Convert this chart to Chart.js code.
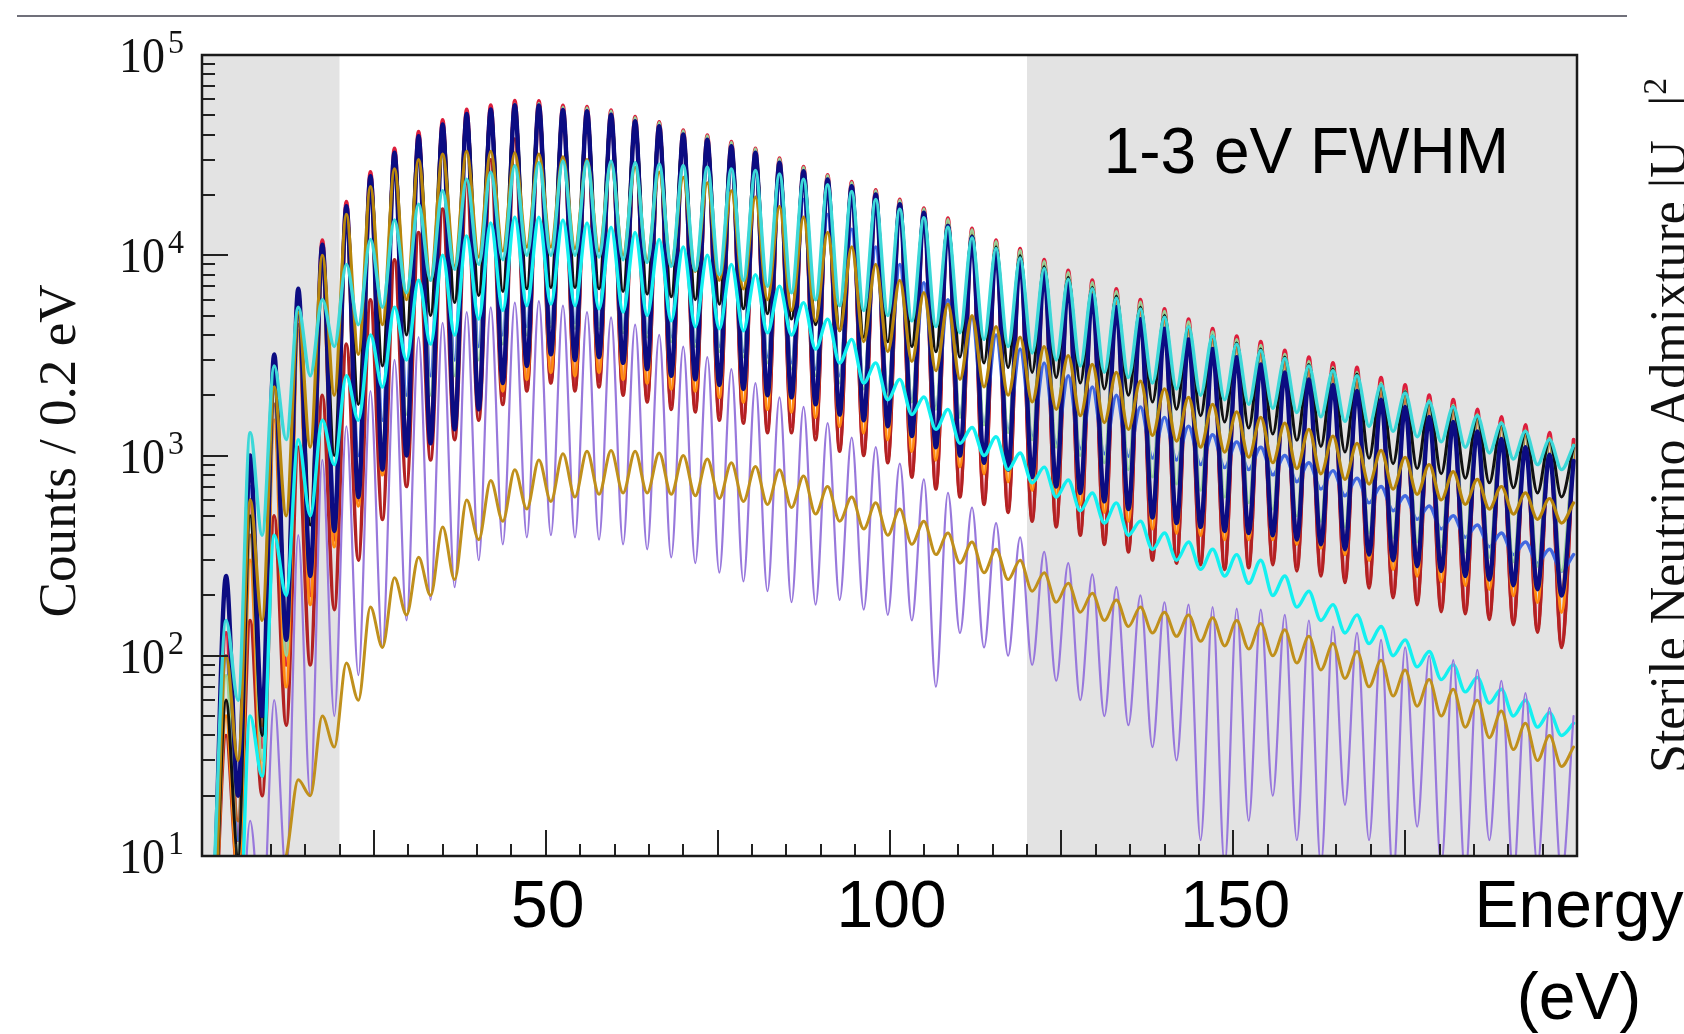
<!DOCTYPE html>
<html><head><meta charset="utf-8">
<script src="https://cdn.jsdelivr.net/npm/chart.js@4.4.1/dist/chart.umd.min.js"></script>
<style>html,body{margin:0;padding:0;background:#fff;overflow:hidden}#wrap{width:1684px;height:1034px;position:relative}</style>
</head><body><div id="wrap"><canvas id="c" width="1684" height="1034"></canvas></div>
<script>
// ---------- energies (eV) of peaks and of the troughs between them ----------
const peakE = [3.5,7,10.5,14,17.5,21,24.5,28,31.5,35,38.5,42,45.5,49,52.5,56,59.5,63,66.5,70,73.5,77,80.5,84,87.5,91,94.5,98,101.5,105,108.5,112,115.5,119,122.5,126,129.5,133,136.5,140,143.5,147,150.5,154,157.5,161,164.5,168,171.5,175,178.5,182,185.5,189,192.5,196,199.5];
const troughE = [1.75,5.25,8.75,12.25,15.75,19.25,22.75,26.25,29.75,33.25,36.75,40.25,43.75,47.25,50.75,54.25,57.75,61.25,64.75,68.25,71.75,75.25,78.75,82.25,85.75,89.25,92.75,96.25,99.75,103.25,106.75,110.25,113.75,117.25,120.75,124.25,127.75,131.25,134.75,138.25,141.75,145.25,148.75,152.25,155.75,159.25,162.75,166.25,169.75,173.25,176.75,180.25,183.75,187.25,190.75,194.25,197.75];

// ---------- counts / 0.2 eV ----------
const crimsonPeaks = [130,600,2600,6500,11900,18500,26100,34200,41400,47400,53500,56200,59100,59000,56000,55200,53100,49200,46400,42200,39800,36900,34200,30500,27700,25200,23300,21200,19000,17200,15300,13600,11900,10800,9500,8400,7500,6800,6000,5400,4800,4300,3950,3700,3350,3100,2900,2750,2450,2250,2000,1900,1700,1560,1420,1300,1200];
const crimsonTroughs = [5,12,35,90,200,380,600,850,1050,1250,1450,1700,2000,2200,2400,2200,2350,2100,1950,1800,1750,1600,1550,1380,1400,1290,1100,1050,970,820,710,650,600,550,490,460,420,380,345,315,305,300,280,290,300,280,265,245,230,205,190,175,170,160,150,138,115];

const navyPeaks = [250,1000,3200,6800,11300,17600,24800,32500,39300,45000,50800,53400,56100,56000,53200,52400,50400,46700,44100,40100,37800,35000,32500,29000,26300,23900,22100,20100,18000,16300,14000,12300,10600,9500,8200,7200,6300,5500,4800,4300,3800,3400,3100,2850,2600,2400,2250,2100,1900,1750,1560,1470,1320,1210,1100,1010,940];
const navyTroughs = [5,20,50,120,250,420,620,850,1000,1150,1350,1700,2300,2800,3200,3000,3100,2900,2700,2500,2400,2250,2150,2000,1950,1800,1600,1500,1400,1250,1100,1000,920,850,780,700,650,590,540,490,460,440,420,410,400,380,360,340,320,300,280,265,250,240,225,215,200];

const blackPeaks = [60,500,2400,6000,10800,16800,23800,31200,37800,43500,49000,51500,54000,54000,51500,50800,48900,45200,42700,38800,36600,34000,31500,28100,25500,23200,21400,19500,17500,15800,14100,12500,11000,9950,8750,7750,6900,6250,5500,5000,4400,3950,3650,3400,3100,2850,2700,2550,2250,2080,1850,1750,1570,1440,1310,1200,1110];
const blackTroughs = [3,10,40,150,450,1000,1800,2800,4000,5000,5800,6300,6600,6800,6900,6900,6800,6600,6400,6200,6000,5700,5400,5100,4800,4500,4200,3900,3700,3500,3300,3100,2900,2750,2600,2450,2300,2150,2000,1850,1700,1580,1470,1370,1280,1190,1110,1040,970,910,860,810,770,730,690,650,620];

const turquoisePeaks = [150,1300,2800,5500,6000,9000,12000,15000,18000,21000,24000,26000,28000,29000,29500,29500,29500,29000,28500,28000,27500,27000,26500,25500,24000,22500,20800,19000,17000,15400,13800,12200,10800,9700,8600,7600,6800,6100,5400,4900,4400,3950,3600,3350,3050,2800,2650,2500,2250,2050,1850,1750,1580,1450,1320,1200,1120];
const turquoiseTroughs = [8,60,400,1200,2500,3500,4500,5500,6500,7500,8500,9000,9500,10000,10000,10000,9800,9500,9200,8800,8400,8000,7500,7000,6500,6000,5600,5300,5000,4700,4400,4100,3800,3500,3250,3000,2800,2600,2450,2300,2150,2000,1900,1800,1720,1640,1560,1480,1400,1320,1240,1170,1100,1030,960,900,850];

const greenPeaks = [80,500,2200,5800,10500,16500,23500,31000,38000,44000,50000,53500,57000,57500,55000,54500,52500,48800,46000,41900,39500,36700,34000,30300,27500,25000,23100,21000,18800,17000,15100,13400,11700,10600,9300,8200,7300,6600,5850,5250,4650,4150,3800,3550,3200,2950,2750,2600,2300,2100,1880,1780,1600,1460,1330,1220,1120];
const greenTroughs = [3,10,30,100,250,500,800,1200,1600,2000,2500,3000,3600,4000,4400,4300,4300,4100,3900,3700,3500,3300,3100,2900,2700,2500,2300,2150,2000,1850,1700,1550,1420,1300,1200,1100,1000,920,850,780,720,670,620,580,540,500,470,440,410,390,370,350,330,310,295,280,265];

const orangePeaks = [50,300,1500,4200,8500,14500,21500,29500,36500,42500,48000,50500,53000,53000,50400,49700,47800,44300,41800,38000,35800,33200,30800,27500,24900,22700,21000,19100,17100,15500,13800,12200,10700,9700,8550,7550,6750,6100,5400,4850,4300,3850,3550,3300,3000,2800,2600,2450,2200,2000,1800,1700,1530,1400,1280,1170,1080];
const orangeTroughs = [3,8,25,70,180,350,560,800,1000,1250,1500,1800,2100,2400,2600,2500,2600,2400,2300,2150,2100,1950,1850,1700,1650,1550,1400,1300,1200,1050,950,880,810,740,670,620,570,520,470,430,410,400,380,380,380,360,345,320,300,270,250,235,225,215,200,185,165];

const siennaPeaks = [60,400,1800,4500,8500,14000,21000,29000,37000,44000,50000,53000,56000,56000,53000,52000,50000,46500,43800,39800,37500,34800,32200,28700,26000,23700,21900,19900,17900,16200,14400,12800,11200,10200,8950,7900,7050,6400,5650,5100,4500,4050,3700,3500,3150,2900,2720,2580,2300,2100,1880,1780,1600,1460,1330,1220,1130];
const siennaTroughs = [3,15,45,120,280,500,750,1050,1300,1550,1800,2100,2500,2900,3200,3100,3100,2900,2750,2600,2500,2350,2250,2100,2000,1850,1700,1550,1450,1300,1150,1050,960,880,800,730,670,610,560,510,480,460,440,430,420,400,380,360,340,320,300,285,270,255,240,228,215];

const firebrickPeaks = [40,150,500,1100,2000,3600,6000,9500,13000,17000,23000,30000,38000,45000,48000,49000,48000,45000,42500,38800,36500,34000,31500,28000,25500,23200,21400,19500,17500,15800,14100,12500,11000,9950,8750,7750,6900,6250,5500,5000,4400,3950,3650,3400,3100,2850,2650,2550,2250,2050,1850,1750,1570,1440,1310,1200,1100];
const firebrickTroughs = [3,8,20,45,90,170,300,480,700,950,1200,1500,1800,2100,2300,2100,2200,2000,1850,1700,1650,1500,1450,1300,1300,1200,1050,1000,920,780,680,620,570,520,470,440,400,360,330,300,290,285,270,275,285,265,250,232,218,195,180,166,162,152,143,131,110];

const royalPeaks = [100,700,2600,6000,10500,16500,23000,30500,37000,42500,48000,50500,53000,53000,50500,49500,47500,44000,41000,37000,34500,31500,28500,22000,19000,16000,13500,11000,9000,7300,6000,4900,4000,3400,2900,2500,2200,2000,1750,1550,1400,1270,1170,1100,1000,920,840,770,700,630,560,500,450,410,370,340,320];
const royalTroughs = [3,12,40,120,300,600,1000,1500,2000,2500,3000,3500,4000,4400,4600,4600,4500,4300,4100,3900,3700,3500,3300,3100,2900,2700,2500,2300,2100,1900,1750,1600,1450,1350,1250,1150,1080,1020,990,970,950,900,870,850,800,740,680,630,580,530,480,430,390,350,320,290,265];

const goldUpperPeaks = [100,600,2200,5200,10000,16000,22000,27000,30000,32000,33000,33000,32500,32000,31000,30000,29000,27500,26000,24500,23000,21000,19500,17500,15500,13000,11000,9000,7500,6500,5700,5000,4400,3900,3500,3150,2850,2600,2350,2150,1950,1800,1650,1550,1450,1350,1250,1150,1060,980,900,830,760,700,650,610,580];
const goldUpperTroughs = [3,30,150,500,1100,2000,3200,4500,6000,7500,8800,9800,10500,11000,11000,10800,10500,10000,9500,9000,8300,7500,6800,6000,5300,4700,4200,3700,3300,2950,2650,2400,2200,2000,1850,1700,1580,1460,1350,1260,1180,1100,1040,980,920,860,810,760,720,680,640,600,570,540,510,480,460];

const cyanLowPeaks = [5,50,400,1200,1500,2500,4000,5500,7500,10000,12500,14500,15500,15500,15000,14500,13800,13000,12000,11000,10000,9000,8000,7000,5800,4800,3800,2900,2400,1960,1700,1380,1240,1030,875,755,650,580,470,410,370,340,320,300,250,210,180,160,140,120,105,90,78,68,60,52,46];
const cyanLowTroughs = [1,3,25,200,500,900,1500,2200,3000,3600,4000,4800,5300,5600,5700,5600,5400,5200,5000,4700,4400,4300,4200,4100,4000,3400,2900,2300,1900,1600,1350,1150,1000,850,730,620,530,460,400,340,300,270,250,230,200,175,150,130,115,100,88,76,66,58,50,44,40];

const purplePeaks = [3,15,60,400,950,1400,2100,3000,3900,4600,5200,5500,5800,5900,5600,5200,4900,4500,4000,3500,3100,2700,2300,1950,1750,1450,1230,1100,910,760,650,550,460,390,330,290,255,220,200,185,180,175,172,170,160,150,140,130,120,110,100,95,85,75,65,55,50];
const purpleTroughs = [1,2,4,8,20,50,80,110,150,190,220,300,360,390,400,390,380,360,340,310,290,260,235,210,185,180,190,170,160,150,70,130,110,100,90,75,60,50,45,35,30,12,9,15,20,12,9,18,12,8,14,9,8,12,8,9,8];

const goldLowPeaks = [2,3,8,24,50,92,175,245,310,440,600,750,850,950,1020,1050,1060,1050,1030,1000,960,920,880,850,790,700,620,580,540,470,410,370,340,300,260,230,205,190,175,165,160,155,150,145,135,125,115,105,95,85,76,68,60,53,46,40,35];
const goldLowTroughs = [1,2,4,10,20,35,60,110,160,200,240,380,470,540,590,620,640,650,650,640,630,610,590,570,550,510,470,430,400,360,320,290,260,240,210,185,165,150,140,130,125,118,112,108,100,92,85,77,70,63,56,50,44,39,34,30,28];

// ---------- axes / annotations ----------
const shadedRanges = [[0, 20], [120, 200]];
const xMajorTicks = [25, 50, 75, 100, 125, 150, 175];
const xMinorTicks = [5,10,15,20,30,35,40,45,55,60,65,70,80,85,90,95,105,110,115,120,130,135,140,145,155,160,165,170,180,185,190,195];
const xTickLabelValues = [50, 100, 150, 200];
const xTickLabels = [['50'], ['100'], ['150'], ['Energy', '(eV)']];
const yDecadeExponents = [1, 2, 3, 4, 5];
const yMinorMultipliers = [2, 3, 4, 5, 6, 7, 8, 9];
const yTitle = 'Counts / 0.2 eV';
const panelNote = '1-3 eV FWHM';
const rightTitleMain = 'Sterile Neutrino Admixture |U';
const rightTitleSub = 'e4';
const rightTitleEnd = '|';
const rightTitleSup = '2';

function buildPoints(troughs, peaks) {
  const pts = [];
  for (let i = 0; i < peaks.length; i++) {
    pts.push({ x: troughE[i], y: troughs[i] });
    pts.push({ x: peakE[i], y: peaks[i] });
  }
  return pts;
}

// listed top-most first
const seriesDefs = [
  { label: 'Spectrum L1', color: '#c0901c', width: 3.0, pk: goldLowPeaks, tr: goldLowTroughs },
  { label: 'Spectrum L2', color: '#9878dc', width: 2.2, pk: purplePeaks, tr: purpleTroughs },
  { label: 'Spectrum L3', color: '#14f0f0', width: 3.4, pk: cyanLowPeaks, tr: cyanLowTroughs },
  { label: 'Spectrum U1', color: '#3cd8d8', width: 3.4, pk: turquoisePeaks, tr: turquoiseTroughs },
  { label: 'Spectrum U2', color: '#b8860b', width: 3.2, pk: goldUpperPeaks, tr: goldUpperTroughs },
  { label: 'Spectrum U3', color: '#0c0c82', width: 4.4, pk: navyPeaks, tr: navyTroughs },
  { label: 'Spectrum U4', color: '#111111', width: 3.0, pk: blackPeaks, tr: blackTroughs },
  { label: 'Spectrum U5', color: '#98d198', width: 3.0, pk: greenPeaks, tr: greenTroughs },
  { label: 'Spectrum U6', color: '#b5622a', width: 3.6, pk: siennaPeaks, tr: siennaTroughs },
  { label: 'Spectrum U7', color: '#4169e1', width: 3.4, pk: royalPeaks, tr: royalTroughs },
  { label: 'Spectrum U8', color: '#ff8a10', width: 3.4, pk: orangePeaks, tr: orangeTroughs },
  { label: 'Spectrum U9', color: '#b22222', width: 3.6, pk: firebrickPeaks, tr: firebrickTroughs },
  { label: 'Spectrum U10', color: '#dc1e3c', width: 3.8, pk: crimsonPeaks, tr: crimsonTroughs }
];

const datasets = seriesDefs.map(s => ({
  label: s.label,
  data: buildPoints(s.tr, s.pk),
  borderColor: s.color,
  borderWidth: s.width,
  pointRadius: 0,
  fill: false,
  cubicInterpolationMode: 'monotone',
  borderJoinStyle: 'round',
  borderCapStyle: 'round',
  clip: 0
}));

function stretchedText(ctx, text, x, y, font, align, sy) {
  ctx.save();
  ctx.translate(x, y);
  ctx.scale(1, sy);
  ctx.font = font;
  ctx.textAlign = align;
  ctx.textBaseline = 'alphabetic';
  ctx.fillText(text, 0, 0);
  ctx.restore();
}

const decor = {
  id: 'decor',
  beforeDraw(chart) {
    const ctx = chart.ctx;
    ctx.save();
    ctx.fillStyle = '#ffffff';
    ctx.fillRect(0, 0, chart.width, chart.height);
    ctx.restore();
  },
  beforeDatasetsDraw(chart) {
    const { ctx, chartArea: a, scales: { x } } = chart;
    ctx.save();
    ctx.fillStyle = '#e3e3e3';
    for (const [lo, hi] of shadedRanges) {
      const x0 = x.getPixelForValue(lo), x1 = x.getPixelForValue(hi);
      ctx.fillRect(x0, a.top, x1 - x0, a.bottom - a.top);
    }
    ctx.restore();
  },
  afterDatasetsDraw(chart) {
    const { ctx, chartArea: a, scales: { x, y } } = chart;
    ctx.save();
    // slide rule line at the top
    ctx.strokeStyle = '#70707a';
    ctx.lineWidth = 2;
    ctx.beginPath(); ctx.moveTo(17, 16); ctx.lineTo(1627, 16); ctx.stroke();

    // ticks (drawn inward)
    ctx.strokeStyle = '#222';
    ctx.lineWidth = 2;
    ctx.beginPath();
    for (const v of xMajorTicks) { const px = Math.round(x.getPixelForValue(v)); ctx.moveTo(px, a.bottom); ctx.lineTo(px, a.bottom - 26); }
    for (const v of xMinorTicks) { const px = Math.round(x.getPixelForValue(v)); ctx.moveTo(px, a.bottom); ctx.lineTo(px, a.bottom - 12); }
    for (const e of yDecadeExponents) {
      const py = Math.round(y.getPixelForValue(Math.pow(10, e)));
      ctx.moveTo(a.left, py); ctx.lineTo(a.left + 26, py);
      if (e < 5) {
        for (const m of yMinorMultipliers) {
          const pm = Math.round(y.getPixelForValue(m * Math.pow(10, e)));
          ctx.moveTo(a.left, pm); ctx.lineTo(a.left + 13, pm);
        }
      }
    }
    ctx.stroke();

    // frame
    ctx.lineWidth = 2.5;
    ctx.strokeStyle = '#1a1a1a';
    ctx.strokeRect(a.left, a.top, a.right - a.left, a.bottom - a.top);

    // y tick labels 10^n
    ctx.fillStyle = '#111';
    for (const e of yDecadeExponents) {
      const py = y.getPixelForValue(Math.pow(10, e));
      stretchedText(ctx, '10', 165, py + 17, '46px "Liberation Serif"', 'right', 1.08);
      stretchedText(ctx, String(e), 168, py - 2, '32px "Liberation Serif"', 'left', 1.05);
    }

    // x tick labels
    ctx.fillStyle = '#000';
    ctx.font = '66px "Liberation Sans"';
    ctx.textAlign = 'center';
    ctx.textBaseline = 'alphabetic';
    xTickLabelValues.forEach((v, i) => {
      const px = x.getPixelForValue(v) + 2;
      xTickLabels[i].forEach((line, j) => ctx.fillText(line, px, a.bottom + 71 + j * 92));
    });

    // y axis title (rotated)
    ctx.save();
    ctx.translate(75, 451);
    ctx.rotate(-Math.PI / 2);
    ctx.scale(1.02, 1);
    ctx.font = '52px "Liberation Serif"';
    ctx.textAlign = 'center';
    ctx.fillStyle = '#111';
    ctx.fillText(yTitle, 0, 0);
    ctx.restore();

    // right-hand (cut off) title
    ctx.save();
    ctx.translate(1686, 773);
    ctx.rotate(-Math.PI / 2);
    ctx.fillStyle = '#111';
    ctx.textAlign = 'left';
    ctx.font = '52px "Liberation Serif"';
    ctx.fillText(rightTitleMain, 0, 0);
    let w = ctx.measureText(rightTitleMain).width;
    ctx.font = '34px "Liberation Serif"';
    ctx.fillText(rightTitleSub, w + 1, 22);
    w += ctx.measureText(rightTitleSub).width + 2;
    ctx.font = '52px "Liberation Serif"';
    ctx.fillText(rightTitleEnd, w, 0);
    w += ctx.measureText(rightTitleEnd).width + 1;
    ctx.font = '34px "Liberation Serif"';
    ctx.fillText(rightTitleSup, w, -20);
    ctx.restore();

    // panel note
    ctx.fillStyle = '#000';
    ctx.font = '64px "Liberation Sans"';
    ctx.textAlign = 'right';
    ctx.fillText(panelNote, 1509, 173);
    ctx.restore();
  }
};

new Chart(document.getElementById('c'), {
  type: 'line',
  data: { datasets },
  options: {
    responsive: false,
    animation: false,
    events: [],
    layout: { padding: { left: 202, right: 107, top: 55, bottom: 178 } },
    plugins: { legend: { display: false }, tooltip: { enabled: false } },
    scales: {
      x: { type: 'linear', min: 0, max: 200, display: false },
      y: { type: 'logarithmic', min: 10, max: 100000, display: false }
    }
  },
  plugins: [decor]
});
</script></body></html>
